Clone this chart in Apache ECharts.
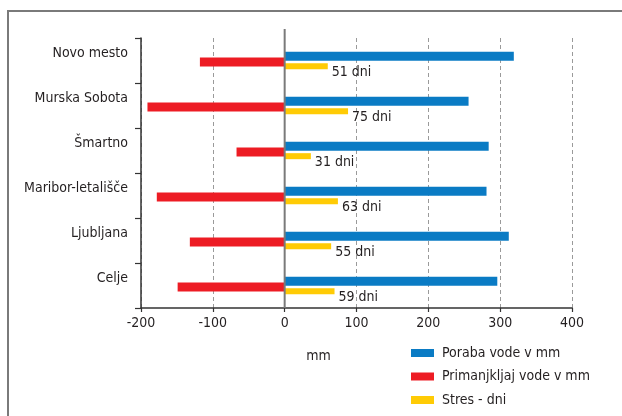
<!DOCTYPE html>
<html>
<head>
<meta charset="utf-8">
<title>Poraba vode</title>
<script src="https://cdn.jsdelivr.net/npm/echarts@6/dist/echarts.min.js"></script>
<style>
  html, body { margin: 0; padding: 0; background: #ffffff; }
  #chart { width: 622px; height: 416px; }
</style>
</head>
<body>
<div id="chart"></div>
<script>
// Weather stations, listed top to bottom
const categories = ['Novo mesto', 'Murska Sobota', 'Šmartno', 'Maribor-letališče', 'Ljubljana', 'Celje'];
// Water use (mm)
const porabaVode = [319, 256, 284, 281, 312, 296];
// Water deficit (mm)
const primanjkljajVode = [-118, -191, -67, -178, -132, -149];
// Stress duration (days)
const stresDni = [51, 75, 31, 63, 55, 59];

const FONT = "'DejaVu Sans Condensed', 'Liberation Sans Narrow', 'DejaVu Sans', sans-serif";
const FS = 14;
const TEXT = '#231f20';
const AXIS = '#333333';

const chart = echarts.init(document.getElementById('chart'), null, { renderer: 'canvas' });

chart.setOption({
  animation: false,
  backgroundColor: '#ffffff',
  textStyle: { fontFamily: FONT, color: TEXT },
  grid: { left: 141, right: 50, top: 38, bottom: 108 },
  xAxis: [
    {
      type: 'value',
      min: -200,
      max: 400,
      interval: 100,
      axisLine: { show: true, onZero: false, lineStyle: { color: AXIS, width: 1.5 } },
      axisTick: { show: true, length: 4, lineStyle: { color: AXIS, width: 1.2 } },
      axisLabel: { margin: 8, fontSize: FS, color: TEXT, fontFamily: FONT },
      splitLine: { show: true, lineStyle: { type: [4, 3], color: '#9a9a9a', width: 1 } },
      name: 'mm',
      nameLocation: 'middle',
      nameGap: 41,
      nameTextStyle: { fontSize: FS, color: TEXT, fontFamily: FONT, padding: [0, 76, 0, 0] }
    },
    {
      // separate scale for the stress-days bars
      type: 'value',
      min: -170,
      max: 340,
      show: false,
      splitLine: { show: false }
    }
  ],
  yAxis: {
    type: 'category',
    inverse: true,
    data: categories,
    axisLine: { show: true, onZero: false, lineStyle: { color: AXIS, width: 1.5 } },
    axisTick: { show: true, length: 6, lineStyle: { color: AXIS, width: 1.2 } },
    axisLabel: { margin: 13, fontSize: FS, color: TEXT, fontFamily: FONT, verticalAlign: 'bottom', lineHeight: 15 },
    splitLine: { show: false }
  },
  legend: {
    orient: 'vertical',
    left: 411,
    top: 345,
    padding: 0,
    itemWidth: 23,
    itemHeight: 8,
    itemGap: 7.5,
    icon: 'rect',
    textStyle: { fontSize: FS, color: TEXT, fontFamily: FONT, lineHeight: 16, padding: [0, 0, 0, 3] },
    data: ['Poraba vode v mm', 'Primanjkljaj vode v mm', 'Stres - dni']
  },
  series: [
    {
      name: 'Poraba vode v mm',
      type: 'bar',
      data: porabaVode,
      barWidth: 9,
      barGap: '-37%',
      itemStyle: { color: '#0a7bc4' }
    },
    {
      name: 'Primanjkljaj vode v mm',
      type: 'bar',
      data: primanjkljajVode,
      barWidth: 9,
      barGap: '-37%',
      itemStyle: { color: '#ed1c24' }
    },
    {
      name: 'Stres - dni',
      type: 'bar',
      xAxisIndex: 1,
      data: stresDni,
      barWidth: 6,
      barGap: '-37%',
      itemStyle: { color: '#ffcb05' },
      label: {
        show: true,
        position: 'right',
        distance: 4,
        offset: [0, 6],
        formatter: '{c} dni',
        fontSize: FS,
        color: TEXT,
        fontFamily: FONT
      }
    }
  ]
});

// Zero reference line and outer frame, placed from the chart's own scale
const gridRect = chart.getModel().getComponent('grid').coordinateSystem.getRect();
const x0 = chart.convertToPixel({ xAxisIndex: 0 }, 0);
chart.setOption({
  graphic: [
    {
      type: 'rect',
      z: -1,
      silent: true,
      shape: { x: 8, y: 11, width: 700, height: 500 },
      style: { fill: null, stroke: '#7a7a7a', lineWidth: 2 }
    },
    {
      type: 'line',
      z: 100,
      silent: true,
      shape: { x1: x0, y1: gridRect.y - 9, x2: x0, y2: gridRect.y + gridRect.height },
      style: { stroke: '#7a7a7a', lineWidth: 2 }
    }
  ]
});
</script>
</body>
</html>
